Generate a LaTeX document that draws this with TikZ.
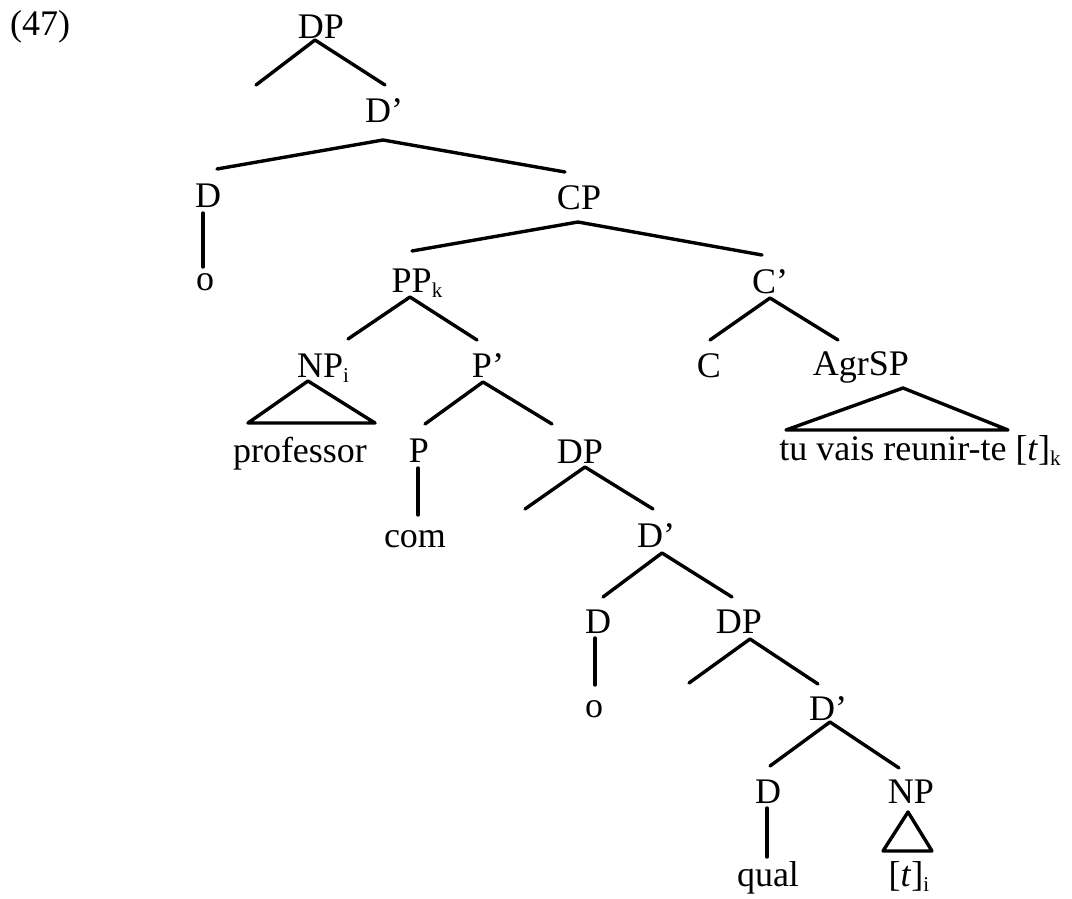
\documentclass[tikz,border=0pt]{standalone}
\usepackage{fontspec}
\setmainfont{Liberation Serif}
\newcommand\subs[1]{\raisebox{-5pt}{\fontsize{21}{21}\selectfont #1}}
\tikzset{
  lab/.style={font=\fontsize{36}{42}\selectfont, inner sep=0pt, anchor=base},
  branch/.style={line width=3.4pt, line cap=round, line join=round}
}
\begin{document}
\begin{tikzpicture}[x=1pt, y=-1pt]
\useasboundingbox (0,0) rectangle (1072,898);
\fill[white] (0,0) rectangle (1072,898);

% labels (positions give the baseline centre)
\node[lab, anchor=base west] (ex) at (10,35) {(47)};
\node[lab] (dpA) at (321,38) {DP};
\node[lab] (dbA) at (384,122) {D'};
\node[lab] (dA) at (208,207) {D};
\node[lab] (oA) at (205,290) {o};
\node[lab] (cp) at (579,209) {CP};
\node[lab] (ppk) at (417,292) {PP\subs{k}};
\node[lab] (cb) at (770,293) {C'};
\node[lab] (npi) at (323,377) {NP\subs{i}};
\node[lab] (pb) at (488,377) {P'};
\node[lab] (c) at (709,377) {C};
\node[lab] (agr) at (861,375) {AgrSP};
\node[lab] (prof) at (300,462) {professor};
\node[lab] (p) at (419,462) {P};
\node[lab] (dpB) at (580,463) {DP};
\node[lab] (tuv) at (920,460) {tu vais reunir-te [\textit{t}]\subs{k}};
\node[lab] (com) at (415,547) {com};
\node[lab] (dbB) at (656,547) {D'};
\node[lab] (dB) at (598,633) {D};
\node[lab] (dpC) at (739,633) {DP};
\node[lab] (oB) at (594,717) {o};
\node[lab] (dbC) at (828,720) {D'};
\node[lab] (dC) at (768,803) {D};
\node[lab] (np) at (911,803) {NP};
\node[lab] (qual) at (768,886) {qual};
\node[lab] (ti) at (909,886) {[\textit{t}]\subs{i}};

% empty specifier positions
\coordinate (fA) at (256,85);
\coordinate (fB) at (525,509);
\coordinate (fC) at (689,683);

% branches
\draw[branch] (fA) -- ([shift={(-6,2)}]dpA.base) -- ([shift={(1,-37)}]dbA.base);
\draw[branch] ([shift={(9,-38)}]dA.base) -- ([shift={(-1,18)}]dbA.base) -- ([shift={(-14,-37)}]cp.base);
\draw[branch] ([shift={(-5,6)}]dA.base) -- ([shift={(-2,-23)}]oA.base);
\draw[branch] ([shift={(-5,-41)}]ppk.base) -- ([shift={(-1,13)}]cp.base) -- ([shift={(-8,-38)}]cb.base);
\draw[branch] ([shift={(25,-38)}]npi.base) -- ([shift={(-7,5)}]ppk.base) -- ([shift={(-11,-37)}]pb.base);
\draw[branch] ([shift={(-15,4)}]npi.base) -- ([shift={(-75,46)}]npi.base) -- ([shift={(52,46)}]npi.base) -- cycle;
\draw[branch] ([shift={(6,-38)}]p.base) -- ([shift={(-5,5)}]pb.base) -- ([shift={(-28,-39)}]dpB.base);
\draw[branch] ([shift={(-1,6)}]p.base) -- ([shift={(3,-32)}]com.base);
\draw[branch] (fB) -- ([shift={(5,4)}]dpB.base) -- ([shift={(-3,-38)}]dbB.base);
\draw[branch] ([shift={(5,-36)}]dB.base) -- ([shift={(6,6)}]dbB.base) -- ([shift={(-7,-36)}]dpC.base);
\draw[branch] ([shift={(-3,5)}]dB.base) -- ([shift={(1,-32)}]oB.base);
\draw[branch] (fC) -- ([shift={(11,6)}]dpC.base) -- ([shift={(-10,-36)}]dbC.base);
\draw[branch] ([shift={(2,-37)}]dC.base) -- ([shift={(2,2)}]dbC.base) -- ([shift={(-12,-35)}]np.base);
\draw[branch] ([shift={(-1,5)}]dC.base) -- ([shift={(-1,-29)}]qual.base);
\draw[branch] ([shift={(-3,9)}]np.base) -- ([shift={(-28,48)}]np.base) -- ([shift={(21,48)}]np.base) -- cycle;
\draw[branch] ([shift={(1,-37)}]c.base) -- ([shift={(0,5)}]cb.base) -- ([shift={(-23,-35)}]agr.base);
\draw[branch] ([shift={(42,13)}]agr.base) -- ([shift={(-75,55)}]agr.base) -- ([shift={(147,55)}]agr.base) -- cycle;
\end{tikzpicture}
\end{document}
